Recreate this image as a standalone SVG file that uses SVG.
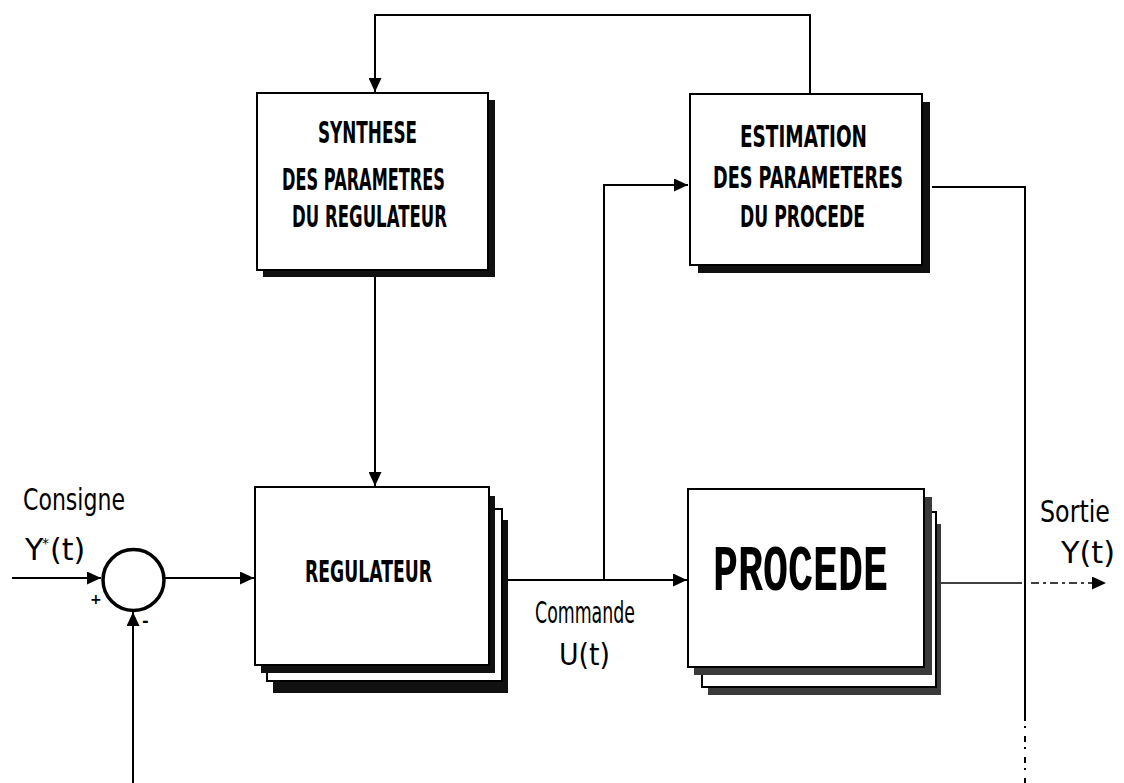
<svg xmlns="http://www.w3.org/2000/svg" width="1124" height="783" viewBox="0 0 1124 783">
<style>
.box{fill:#fff;stroke:#000;stroke-width:2}
.sh{fill:#111}
.dith{fill:#3a3a3a}
.ln{fill:none;stroke:#000;stroke-width:2}
.bt{font-family:"DejaVu Sans",sans-serif;font-weight:bold;font-size:30px;fill:#000}
.lb{font-family:"DejaVu Sans",sans-serif;font-size:30px;fill:#000}
.big{font-family:"Liberation Mono",monospace;font-weight:bold;font-size:65px;fill:#000}
</style>
<defs>
<marker id="arr" markerUnits="userSpaceOnUse" markerWidth="15" markerHeight="13" refX="14" refY="6.5" orient="auto">
<path d="M0,0 L14,6.5 L0,13 Z" fill="#000"/>
</marker>
</defs>
<rect width="1124" height="783" fill="#fff"/>

<g id="connectors">
<polyline class="ln" points="810,94 810,15 375,15 375,92" marker-end="url(#arr)"/>
<line class="ln" x1="375" y1="277" x2="375" y2="486" marker-end="url(#arr)"/>
<line class="ln" x1="12" y1="578" x2="101" y2="578" marker-end="url(#arr)"/>
<line class="ln" x1="165" y1="578" x2="254" y2="578" marker-end="url(#arr)"/>
<line class="ln" x1="133" y1="783" x2="133" y2="612" marker-end="url(#arr)"/>
<line class="ln" x1="508" y1="580" x2="687" y2="580" marker-end="url(#arr)"/>
<polyline class="ln" points="604,580 604,185 688,185" marker-end="url(#arr)"/>
<polyline class="ln" points="932,187 1025,187 1025,715"/>
<line x1="1025" y1="715" x2="1025" y2="783" stroke="#000" stroke-width="2" stroke-dasharray="6,5,2,8"/>
<line x1="941" y1="583" x2="1022" y2="583" stroke="#000" stroke-width="1.5"/>
<line x1="1031" y1="583" x2="1106" y2="583" stroke="#000" stroke-width="1.5" stroke-dasharray="8,4,3,4" marker-end="url(#arr)"/>
</g>

<g id="synthese">
<rect class="sh" x="263" y="100" width="232" height="177"/>
<rect class="box" x="257" y="93" width="231" height="177"/>
<text class="bt" x="318" y="143" textLength="99" lengthAdjust="spacingAndGlyphs">SYNTHESE</text>
<text class="bt" x="282" y="190" textLength="163" lengthAdjust="spacingAndGlyphs">DES PARAMETRES</text>
<text class="bt" x="292" y="227" textLength="155" lengthAdjust="spacingAndGlyphs">DU REGULATEUR</text>
</g>

<g id="estimation">
<rect class="sh" x="698" y="102" width="232" height="171"/>
<rect class="box" x="690" y="94" width="232" height="171"/>
<text class="bt" x="740" y="147" textLength="127" lengthAdjust="spacingAndGlyphs">ESTIMATION</text>
<text class="bt" x="713" y="188" textLength="190" lengthAdjust="spacingAndGlyphs">DES PARAMETERES</text>
<text class="bt" x="740" y="227" textLength="125" lengthAdjust="spacingAndGlyphs">DU PROCEDE</text>
</g>

<g id="sommateur">
<circle cx="133.5" cy="580" r="30.5" fill="#fff" stroke="#000" stroke-width="3.5"/>
<text class="lb" x="90" y="604" style="font-size:14px;font-weight:bold">+</text>
<text class="lb" x="142" y="626" style="font-size:16px;font-weight:bold">-</text>
</g>

<g id="regulateur">
<rect class="sh" x="273" y="520" width="235" height="173"/>
<rect class="box" x="267" y="509" width="235" height="172"/>
<rect class="sh" x="261" y="496" width="234" height="177"/>
<rect class="box" x="255" y="487" width="234" height="178"/>
<text class="bt" x="305" y="582" textLength="127" lengthAdjust="spacingAndGlyphs">REGULATEUR</text>
</g>

<g id="procede">
<rect class="dith" x="708" y="524" width="233" height="171"/>
<rect class="box" x="702" y="512" width="234" height="175"/>
<rect class="dith" x="694" y="497" width="238" height="178"/>
<rect class="box" x="688" y="489" width="236" height="178"/>
<text class="big" x="713" y="590" textLength="175" lengthAdjust="spacingAndGlyphs">PROCEDE</text>
</g>

<g id="labels">
<text class="lb" x="23" y="510" textLength="102" lengthAdjust="spacingAndGlyphs">Consigne</text>
<text class="lb"><tspan x="25" y="560">Y</tspan><tspan x="42" y="548" style="font-size:14px">*</tspan><tspan x="50" y="560">(t)</tspan></text>
<text class="lb" x="535" y="623" textLength="100" lengthAdjust="spacingAndGlyphs">Commande</text>
<text class="lb" x="559" y="665" textLength="51" lengthAdjust="spacingAndGlyphs">U(t)</text>
<text class="lb" transform="translate(1040,522) scale(1,1.25)" x="0" y="0" style="font-size:24px" textLength="70" lengthAdjust="spacingAndGlyphs">Sortie</text>
<text class="lb" transform="translate(1061,563) scale(1,1.25)" x="0" y="0" style="font-size:24px" textLength="54" lengthAdjust="spacingAndGlyphs">Y(t)</text>
</g>
</svg>
